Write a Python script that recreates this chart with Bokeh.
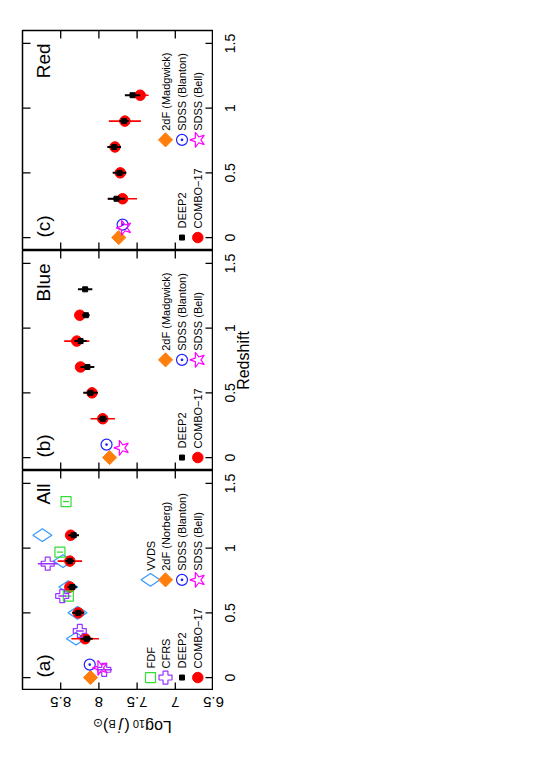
from math import pi
from bokeh.plotting import figure
from bokeh.models import Range1d
from bokeh.layouts import column, row
from bokeh.embed import file_html
from bokeh.resources import INLINE
from bokeh.core.properties import value

# ---------------- data ----------------
z_combo = [0.3, 0.5, 0.7, 0.9, 1.1]
combo_all = [8.18, 8.27, 8.38, 8.38, 8.37]
combo_all_err = [0.18, 0.06, 0.06, 0.16, 0.06]
combo_blue = [7.95, 8.09, 8.24, 8.29, 8.25]
combo_blue_err = [0.16, 0.06, 0.06, 0.165, 0.06]
combo_red = [7.69, 7.72, 7.79, 7.66, 7.46]
combo_red_err = [0.19, 0.06, 0.06, 0.21, 0.11]

z_deep2_all = [0.3, 0.5, 0.7, 0.9, 1.1]
deep2_all = [8.16, 8.27, 8.35, 8.38, 8.33]
deep2_all_err = [0.08, 0.08, 0.06, 0.06, 0.07]
z_deep2_blue = [0.3, 0.5, 0.7, 0.9, 1.1, 1.3]
deep2_blue = [7.95, 8.11, 8.15, 8.24, 8.17, 8.18]
deep2_blue_err = [0.06, 0.095, 0.09, 0.08, 0.05, 0.094]
z_deep2_red = [0.3, 0.5, 0.7, 0.9, 1.1]
deep2_red = [7.77, 7.73, 7.80, 7.67, 7.56]
deep2_red_err = [0.115, 0.09, 0.09, 0.06, 0.10]

z_cfrs = [0.06, 0.36, 0.63, 0.88]
cfrs_all = [7.93, 8.25, 8.48, 8.67]
cfrs_all_err = [0.10, 0.05, 0.05, 0.13]

z_fdf = [0.63, 0.97, 1.36]
fdf_all = [8.40, 8.51, 8.43]
fdf_all_err = [0.04, 0.04, 0.04]

z_vvds = [0.3, 0.5, 0.7, 0.9, 1.1]
vvds_all = [8.30, 8.28, 8.40, 8.47, 8.74]

z_2df = [0.0]
norberg_all = [8.11]
madgwick_blue = [7.86]
madgwick_red = [7.74]

z_blanton = [0.1]
blanton_all = [8.12]
blanton_blue = [7.90]
blanton_red = [7.69]

z_bell = [0.075]
bell_all = [7.98]
bell_blue = [7.70]
bell_red = [7.67]

x_ticks = [6.5, 7, 7.5, 8, 8.5]
x_tick_labels = ["6.5", "7", "7.5", "8", "8.5"]
z_ticks = [0, 0.5, 1, 1.5]
z_tick_labels = ["0", "0.5", "1", "1.5"]

# ---------------- styling / layout ----------------
FONT = "Liberation Sans"
FW, FH = 191, 220
XMAX, XMIN = 9.0, 6.5
ZMIN, ZMAX = -0.1, 1.6
LEFT, TOP, RSTRIP = 22, 30, 60
RED, ORANGE, BLUE, MAGENTA = "#ff0000", "#ff7f0e", "#2222ff", "#ff00ff"
GREEN, PURPLE, VVDS_C = "#33dd33", "#9933ff", "#3399ff"
TICK = 8  # px, inward
PXU = (XMAX - XMIN) / FW  # log units per pixel


def px_to_log(px):
    return XMAX - px * PXU


def base_fig(fw, fh, xr, yr, top=0, left=0, bottom=0, right=0):
    p = figure(frame_width=fw, frame_height=fh, x_range=xr, y_range=yr,
               output_backend="svg", toolbar_location=None,
               x_axis_location=None, y_axis_location=None,
               min_border_left=left, min_border_right=right,
               min_border_top=top, min_border_bottom=bottom)
    p.grid.visible = False
    p.outline_line_color = None
    p.background_fill_color = "white"
    p.border_fill_color = "white"
    return p


def make_panel(top):
    p = base_fig(FW, FH, Range1d(XMAX, XMIN), Range1d(ZMIN, ZMAX), top=top, left=LEFT)
    p.outline_line_color = "black"
    p.outline_line_width = 1.5
    dx = TICK * PXU
    dz = TICK * (ZMAX - ZMIN) / FH
    n = len(z_ticks)
    p.segment(x0=[XMAX] * n, x1=[XMAX - dx] * n, y0=z_ticks, y1=z_ticks, line_color="black", line_width=1.3)
    p.segment(x0=[XMIN] * n, x1=[XMIN + dx] * n, y0=z_ticks, y1=z_ticks, line_color="black", line_width=1.3)
    m = len(x_ticks)
    p.segment(x0=x_ticks, x1=x_ticks, y0=[ZMAX] * m, y1=[ZMAX - dz] * m, line_color="black", line_width=1.3)
    p.segment(x0=x_ticks, x1=x_ticks, y0=[ZMIN] * m, y1=[ZMIN + dz] * m, line_color="black", line_width=1.3)
    return p


def make_rstrip(top, title=None):
    s = base_fig(RSTRIP, FH, Range1d(0, RSTRIP), Range1d(ZMIN, ZMAX), top=top)
    s.text(x=[16] * len(z_ticks), y=z_ticks, text=z_tick_labels, angle=pi / 2,
           text_font=value(FONT), text_font_size="14px", text_align="center",
           text_baseline="alphabetic", text_color="black")
    if title:
        s.text(x=[29.5], y=[(ZMIN + ZMAX) / 2], text=[title], angle=pi / 2,
               text_font=value(FONT), text_font_size="16px", text_align="center",
               text_baseline="alphabetic", text_color="black")
    return s


def errbars(p, vals, errs, zs, color, width):
    p.segment(x0=[v - e for v, e in zip(vals, errs)], x1=[v + e for v, e in zip(vals, errs)],
              y0=zs, y1=zs, line_color=color, line_width=width)


def mk(p, xs, zs, kind):
    if kind == "fdf":
        p.scatter(xs, zs, marker="square", size=10, fill_color=None, line_color=GREEN, line_width=1.2)
    elif kind == "cfrs":
        p.scatter(xs, zs, marker="plus", size=13, fill_color=None, line_color=PURPLE, line_width=1.2)
    elif kind == "deep2":
        p.scatter(xs, zs, marker="square", size=5, fill_color="black", line_color="black")
    elif kind == "combo":
        p.scatter(xs, zs, marker="circle", size=10.5, fill_color=RED, line_color=RED)
    elif kind == "vvds":
        p.scatter(xs, zs, marker="diamond", angle=pi / 2, size=19, fill_color=None, line_color=VVDS_C, line_width=1.2)
    elif kind == "2df":
        p.scatter(xs, zs, marker="square", angle=pi / 4, size=10, fill_color=ORANGE, line_color=ORANGE)
    elif kind == "blanton":
        p.scatter(xs, zs, marker="circle_dot", size=11, fill_color=None, line_color=BLUE, line_width=1.2)
    elif kind == "bell":
        p.scatter(xs, zs, marker="star", angle=pi / 2, size=16, fill_color=None, line_color=MAGENTA, line_width=1.2)


def combo(p, vals, errs, zs):
    errbars(p, vals, errs, zs, RED, 1.6)
    mk(p, vals, zs, "combo")


def deep2(p, vals, errs, zs):
    errbars(p, vals, errs, zs, "black", 2)
    mk(p, vals, zs, "deep2")


def local(p, v2df, vbl, vbe):
    mk(p, v2df, z_2df, "2df")
    mk(p, vbl, z_blanton, "blanton")
    mk(p, vbe, z_bell, "bell")


def txt(p, x, y, s, size, align="left", base="middle"):
    p.text(x=[x], y=[y], text=[s], angle=pi / 2, text_font=value(FONT), text_font_size=size,
           text_align=align, text_baseline=base, text_color="black")


# legend columns (pixel offsets from the frame's left edge) and rows (redshift)
COLS = [px_to_log(128), px_to_log(143), px_to_log(159.5), px_to_log(175.3)]
ROW1, ROW2, DT = 0.0, 0.755, 0.07
PANEL_X = px_to_log(21)


def legend(p, entries):
    for x, z, kind, label in entries:
        mk(p, [x], [z], kind)
        txt(p, x, z + DT, label, "11px")


def panel_labels(p, tag, name):
    txt(p, PANEL_X, 0.0, tag, "19px")
    txt(p, PANEL_X, 1.5, name, "19px", align="right")


LEG_BC = [(COLS[2], ROW1, "deep2", "DEEP2"), (COLS[3], ROW1, "combo", "COMBO\u221217"),
          (COLS[1], ROW2, "2df", "2dF  (Madgwick)"), (COLS[2], ROW2, "blanton", "SDSS  (Blanton)"),
          (COLS[3], ROW2, "bell", "SDSS  (Bell)")]

# ---------------- panel (c) Red ----------------
pc = make_panel(TOP)
combo(pc, combo_red, combo_red_err, z_combo)
deep2(pc, deep2_red, deep2_red_err, z_deep2_red)
local(pc, madgwick_red, blanton_red, bell_red)
panel_labels(pc, "(c)", "Red")
legend(pc, LEG_BC)
sc = make_rstrip(TOP)

# ---------------- panel (b) Blue ----------------
pb = make_panel(0)
combo(pb, combo_blue, combo_blue_err, z_combo)
deep2(pb, deep2_blue, deep2_blue_err, z_deep2_blue)
local(pb, madgwick_blue, blanton_blue, bell_blue)
panel_labels(pb, "(b)", "Blue")
legend(pb, LEG_BC)
sb = make_rstrip(0, "Redshift")

# ---------------- panel (a) All ----------------
pa = make_panel(0)
mk(pa, vvds_all, z_vvds, "vvds")
combo(pa, combo_all, combo_all_err, z_combo)
deep2(pa, deep2_all, deep2_all_err, z_deep2_all)
errbars(pa, fdf_all, fdf_all_err, z_fdf, GREEN, 1.2)
mk(pa, fdf_all, z_fdf, "fdf")
errbars(pa, cfrs_all, cfrs_all_err, z_cfrs, PURPLE, 1.4)
mk(pa, cfrs_all, z_cfrs, "cfrs")
local(pa, norberg_all, blanton_all, bell_all)
panel_labels(pa, "(a)", "All")
legend(pa, [(COLS[0], ROW1, "fdf", "FDF"), (COLS[1], ROW1, "cfrs", "CFRS"),
            (COLS[2], ROW1, "deep2", "DEEP2"), (COLS[3], ROW1, "combo", "COMBO\u221217"),
            (COLS[0], ROW2, "vvds", "VVDS"), (COLS[1], ROW2, "2df", "2dF  (Norberg)"),
            (COLS[2], ROW2, "blanton", "SDSS  (Blanton)"), (COLS[3], ROW2, "bell", "SDSS  (Bell)")])
sa = make_rstrip(0)

# ---------------- bottom strip: upside-down tick labels and quantity label ----------------
BH = 70
BW = FW + RSTRIP
bot = base_fig(BW, BH, Range1d(XMAX, XMAX - BW * PXU), Range1d(BH, 0), left=LEFT)
bot.text(x=x_ticks, y=[11.7] * len(x_ticks), text=x_tick_labels, angle=pi,
         text_font=value(FONT), text_font_size="15px", text_align="center",
         text_baseline="alphabetic", text_color="black")
# Log10 (j_B)_sun, built from pieces (centre in px from frame left, baseline px from strip top)
pieces = [(136.0, 36.0, "Log", "16px", "normal"),
          (116.5, 33.5, "10", "11px", "normal"),
          (104.5, 36.0, "(", "16px", "normal"),
          (97.7, 36.0, "j", "16px", "italic"),
          (89.5, 33.5, "B", "11px", "normal"),
          (83.0, 36.0, ")", "16px", "normal"),
          (75.2, 32.5, "\u2299", "12px", "normal")]
for sx, sy, s, fs, st in pieces:
    bot.text(x=[px_to_log(sx)], y=[sy], text=[s], angle=pi, text_font=value(FONT),
             text_font_size=fs, text_font_style=st, text_align="center",
             text_baseline="alphabetic", text_color="black")

layout = column(row(pc, sc, spacing=0), row(pb, sb, spacing=0), row(pa, sa, spacing=0), bot, spacing=0)
open("out.html", "w").write(file_html(layout, INLINE))
